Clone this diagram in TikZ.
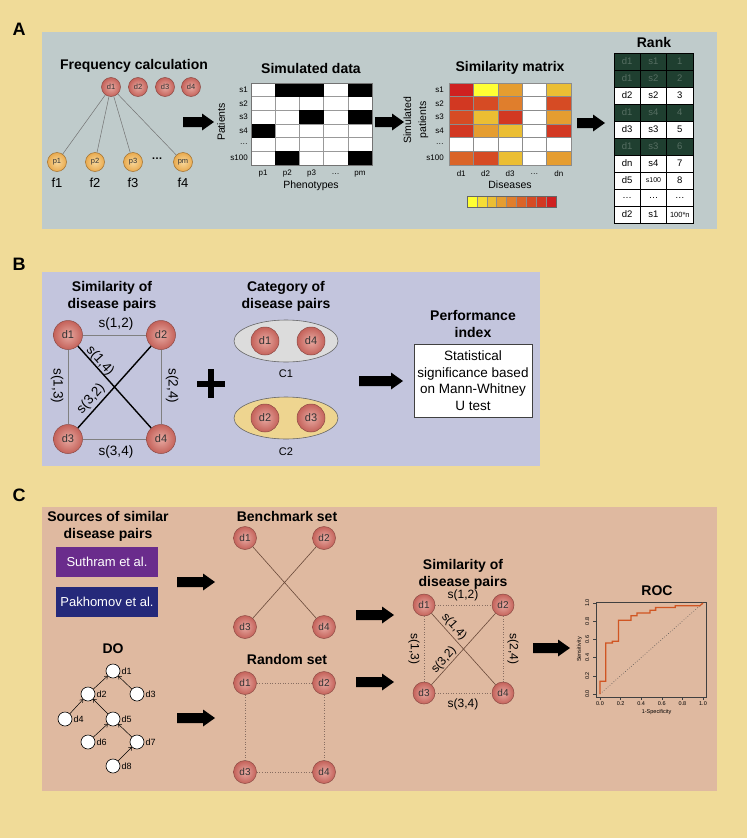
\documentclass[tikz,border=0pt]{standalone}
\usepackage{fontspec}
\setmainfont{Liberation Sans}
\usetikzlibrary{arrows.meta,shapes.geometric,calc}
\definecolor{bgyellow}{HTML}{F0DB98}
\definecolor{panelA}{HTML}{BFCBCB}
\definecolor{panelB}{HTML}{C3C5DD}
\definecolor{panelC}{HTML}{DFB9A0}
\definecolor{dred}{HTML}{C4625A}
\definecolor{dredin}{HTML}{E8AAA2}
\definecolor{dredline}{HTML}{8C4A44}
\definecolor{porange}{HTML}{E9AA4E}
\definecolor{porangein}{HTML}{F8D89C}
\definecolor{porangeline}{HTML}{A07030}
\definecolor{darkrow}{HTML}{1F3F30}
\definecolor{darktext}{HTML}{566E62}
\definecolor{purplebox}{HTML}{6A2C8C}
\definecolor{navybox}{HTML}{25297A}
\definecolor{roccurve}{HTML}{D05522}
\definecolor{ellgray}{HTML}{DCDCDC}
\definecolor{ellyellow}{HTML}{EED590}
\definecolor{cb1}{HTML}{FFFF33}
\definecolor{cb2}{HTML}{F5DC35}
\definecolor{cb3}{HTML}{EBBE33}
\definecolor{cb4}{HTML}{E59D30}
\definecolor{cb5}{HTML}{E07E2C}
\definecolor{cb6}{HTML}{DA6428}
\definecolor{cb7}{HTML}{D64B24}
\definecolor{cb8}{HTML}{D23822}
\definecolor{cb9}{HTML}{CF2020}
\definecolor{edgebrown}{HTML}{6A4A3A}
\newcommand{\fsz}[1]{\fontsize{#1}{#1}\selectfont}
\begin{document}
\begin{tikzpicture}[x=1pt,y=-1pt,
  ttl/.style={font=\fontsize{14}{17}\selectfont\bfseries, align=center, inner sep=0pt},
  dnode/.style={circle, draw=dredline, line width=0.5pt, inner color=dredin, outer color=dred, minimum size=#1, inner sep=0pt, text=black!80},
  pnode/.style={circle, draw=porangeline, line width=0.5pt, inner color=porangein, outer color=porange, minimum size=19, inner sep=0pt, font=\fsz{7.5}, text=black!80},
  donode/.style={circle, draw=black, fill=white, line width=0.6pt, minimum size=14, inner sep=0pt},
  dolbl/.style={anchor=west, inner sep=1pt, font=\fsz{9}},
  small/.style={inner sep=0pt, font=\fsz{#1}},
  gridgray/.style={draw=black!40, line width=0.5pt},
  barrow/.pic={\fill[black] (-#1,-5) -- (-12,-5) -- (-12,-8.5) -- (0,0) -- (-12,8.5) -- (-12,5) -- (-#1,5) -- cycle;},
  doarrow/.style={-{To[length=3pt,width=4.5pt]}, line width=0.5pt},
  slbl/.style={inner sep=0pt, font=\fsz{13.5}},
  slblc/.style={inner sep=0pt, font=\fsz{12}}
]
\useasboundingbox (0,0) rectangle (747,838);
\fill[bgyellow] (0,0) rectangle (747,838);
\fill[panelA] (42,32) rectangle (717,229);
\fill[panelB] (42,272) rectangle (540,466);
\fill[panelC] (42,507) rectangle (717,791);
\node[font=\fsz{18}\bfseries, inner sep=0pt] (labA) at (19,29) {A};
\node[font=\fsz{18}\bfseries, inner sep=0pt] (labB) at (19,264) {B};
\node[font=\fsz{18}\bfseries, inner sep=0pt] (labC) at (19,495) {C};

% ---------------- Panel A ----------------
\node[ttl] (tfreq) at (134,66) {Frequency calculation};
\foreach \n/\x in {1/111,2/138,3/165,4/191}
  \node[dnode=19, font=\fsz{7.5}] (fa\n) at (\x,87) {d\n};
\foreach \n/\x/\t in {1/57/p1,2/95/p2,3/133/p3,4/183/pm}{
  \node[pnode] (fp\n) at (\x,162) {\t};
  \node[small=13] (ff\n) at (\x,183) {f\n};
  \draw[black!55, line width=0.5pt] (fa1) -- (fp\n);
}
\node[font=\fsz{11}\bfseries, inner sep=0pt] (fdots) at (157,159) {…};
\pic at (214,122) {barrow=31};

% simulated data
\node[ttl] (tsim) at (311,68) {Simulated data};
\fill[white] (251,83) rectangle (372,165);
\foreach \j in {1,...,4} \draw[gridgray] (251+\j*24.2,83) -- (251+\j*24.2,165);
\foreach \i in {1,...,5} \draw[gridgray] (251,83+\i*13.67) -- (372,83+\i*13.67);
\foreach \i/\j in {0/1,0/2,0/4,2/2,2/4,3/0,5/1,5/4}
  \fill[black] (251+\j*24.2,83+\i*13.67) rectangle ++(24.2,13.67);
\draw[black!55, line width=0.6pt] (251,83) rectangle (372,165);
\foreach \t [count=\i from 0] in {s1,s2,s3,s4,…,s100}
  \node[small=8, anchor=east] (sr\i) at (248,89.8+\i*13.67) {\t};
\foreach \t [count=\j from 0] in {p1,p2,p3,…,pm}
  \node[small=8] (sc\j) at (263.1+\j*24.2,174) {\t};
\node[small=10.5] (phen) at (311,186) {Phenotypes};
\node[small=10.5, rotate=90] (pat) at (221,122) {Patients};
\pic at (404,122) {barrow=29};

% similarity matrix
\node[ttl] (tsm) at (510,68) {Similarity matrix};
\foreach \row [count=\i from 0] in {{cb9,cb1,cb4,white,cb3},{cb8,cb7,cb5,white,cb7},{cb7,cb3,cb8,white,cb4},{cb8,cb4,cb3,white,cb8},{white,white,white,white,white},{cb6,cb7,cb3,white,cb4}}{
  \foreach \c [count=\j from 0] in \row
    \filldraw[fill=\c, draw=black!45, line width=0.5pt] (449+\j*24.4,83+\i*13.67) rectangle ++(24.4,13.67);
}
\foreach \t [count=\i from 0] in {s1,s2,s3,s4,…,s100}
  \node[small=8, anchor=east] (mr\i) at (444,89.8+\i*13.67) {\t};
\foreach \t [count=\j from 0] in {d1,d2,d3,…,dn}
  \node[small=8] (mc\j) at (461.2+\j*24.4,174) {\t};
\node[small=10.5] (dis) at (510,185) {Diseases};
\node[font=\fontsize{10.5}{15}\selectfont, align=center, inner sep=0pt, rotate=90] (simpat) at (416,120) {Simulated\\patients};
\foreach \c [count=\j from 0] in {cb1,cb2,cb3,cb4,cb5,cb6,cb7,cb8,cb9}
  \filldraw[fill=\c, draw=black!45, line width=0.4pt] (467+\j*9.89,196) rectangle ++(9.89,11);
\draw[black!60, line width=0.6pt] (467,196) rectangle (556,207);
\pic at (605,123) {barrow=28};

% rank table
\node[ttl] (trank) at (654,42) {Rank};
\fill[white] (614,53) rectangle (693,223);
\foreach \i in {0,1,3,5} \fill[darkrow] (614,53+\i*17) rectangle ++(79,17);
\foreach \i in {1,...,9} \draw[black, line width=0.5pt] (614,53+\i*17) -- (693,53+\i*17);
\draw[black, line width=0.5pt] (640.3,53) -- (640.3,223) (666.7,53) -- (666.7,223);
\draw[black, line width=0.6pt] (614,53) rectangle (693,223);
\foreach \a/\b/\c/\col [count=\i from 0] in {d1/s1/1/darktext, d1/s2/2/darktext, d2/s2/3/black, d1/s4/4/darktext, d3/s3/5/black, d1/s3/6/darktext, dn/s4/7/black, d5/{\fsz{7}s100}/8/black, …/…/…/black, d2/s1/{\fsz{7.5}100*n}/black}{
  \node[small=9.5, text=\col] (ra\i) at (627.2,61.5+\i*17) {\a};
  \node[small=9.5, text=\col] (rb\i) at (653.5,61.5+\i*17) {\b};
  \node[small=9.5, text=\col] (rc\i) at (679.8,61.5+\i*17) {\c};
}

% ---------------- Panel B ----------------
\node[ttl] (tsimb) at (112,296.5) {Similarity of\\disease pairs};
\node[dnode=29, font=\fsz{11}] (b1) at (68,335) {d1};
\node[dnode=29, font=\fsz{11}] (b2) at (161,335) {d2};
\node[dnode=29, font=\fsz{11}] (b3) at (68,439) {d3};
\node[dnode=29, font=\fsz{11}] (b4) at (161,439) {d4};
\draw[black!50, line width=0.6pt] (b1) -- (b2) (b1) -- (b3) (b2) -- (b4) (b3) -- (b4);
\draw[black, line width=1.4pt] (b1) -- (b4) (b2) -- (b3);
\node[slbl] (s12) at (116,324) {s(1,2)};
\node[slbl] (s34) at (116,452) {s(3,4)};
\node[slbl, rotate=-90] (s13) at (57,386) {s(1,3)};
\node[slbl, rotate=-90] (s24) at (172,386) {s(2,4)};
\node[slbl, rotate=-48] (s14) at (100,361) {s(1,4)};
\node[slbl, rotate=48] (s32) at (91,399) {s(3,2)};
\draw[black, line width=5.5pt] (197,384) -- (225,384) (211,369) -- (211,398);

\node[ttl] (tcat) at (286,296.5) {Category of\\disease pairs};
\node[ellipse, draw=black!60, line width=0.6pt, fill=ellgray, minimum width=104, minimum height=42, inner sep=0pt] (e1) at (286,341) {};
\node[ellipse, draw=black!60, line width=0.6pt, fill=ellyellow, minimum width=104, minimum height=42, inner sep=0pt] (e2) at (286,418) {};
\node[dnode=28, font=\fsz{11}] (c1a) at (265,341) {d1};
\node[dnode=28, font=\fsz{11}] (c1b) at (311,341) {d4};
\node[dnode=28, font=\fsz{11}] (c2a) at (265,418) {d2};
\node[dnode=28, font=\fsz{11}] (c2b) at (311,418) {d3};
\node[small=11] (lc1) at (286,374) {C1};
\node[small=11] (lc2) at (286,452) {C2};
\pic at (403,381) {barrow=44};
\node[ttl] (tperf) at (473,323.5) {Performance\\index};
\node[draw=black!75, line width=0.7pt, fill=white, minimum width=118, minimum height=73, inner sep=0pt, align=center, font=\fontsize{13.5}{16.6}\selectfont] (perf) at (473,380.5) {Statistical\\significance based\\on Mann-Whitney\\U test};

% ---------------- Panel C ----------------
\node[ttl] (tsrc) at (108,526.5) {Sources of similar\\disease pairs};
\node[fill=purplebox, text=white, minimum width=102, minimum height=30, inner sep=0pt, font=\fsz{13}] (suth) at (107,562) {Suthram et al.};
\node[fill=navybox, text=white, minimum width=102, minimum height=30, inner sep=0pt, font=\fsz{13}] (pakh) at (107,602) {Pakhomov et al.};
\node[ttl] (tdo) at (113,649) {DO};
\node[donode] (do1) at (113,671) {};
\node[donode] (do2) at (88,694) {};
\node[donode] (do3) at (137,694) {};
\node[donode] (do4) at (65,719) {};
\node[donode] (do5) at (113,719) {};
\node[donode] (do6) at (88,742) {};
\node[donode] (do7) at (137,742) {};
\node[donode] (do8) at (113,766) {};
\foreach \n in {1,...,8} \node[dolbl] (dol\n) at (do\n.east) {d\n};
\draw[doarrow] (do2) -- (do1);
\draw[doarrow] (do3) -- (do1);
\draw[doarrow] (do4) -- (do2);
\draw[doarrow] (do5) -- (do2);
\draw[doarrow] (do6) -- (do5);
\draw[doarrow] (do7) -- (do5);
\draw[doarrow] (do8) -- (do7);
\pic at (215,582) {barrow=38};
\pic at (215,718) {barrow=38};

% benchmark set
\node[ttl] (tbench) at (287,516) {Benchmark set};
\node[dnode=23, font=\fsz{10}] (k1) at (245,538) {d1};
\node[dnode=23, font=\fsz{10}] (k2) at (324,538) {d2};
\node[dnode=23, font=\fsz{10}] (k3) at (245,627) {d3};
\node[dnode=23, font=\fsz{10}] (k4) at (324,627) {d4};
\draw[edgebrown, line width=0.6pt] (k1) -- (k4) (k2) -- (k3);
\pic at (394,615) {barrow=38};

% random set
\node[ttl] (trand) at (287,659) {Random set};
\node[dnode=23, font=\fsz{10}] (q1) at (245,683) {d1};
\node[dnode=23, font=\fsz{10}] (q2) at (324,683) {d2};
\node[dnode=23, font=\fsz{10}] (q3) at (245,772) {d3};
\node[dnode=23, font=\fsz{10}] (q4) at (324,772) {d4};
\draw[edgebrown!80, line width=0.6pt, dotted] (q1) -- (q2) (q1) -- (q3) (q2) -- (q4) (q3) -- (q4);
\pic at (394,682) {barrow=38};

% similarity C
\node[ttl] (tsimc) at (463,574.5) {Similarity of\\disease pairs};
\node[dnode=22, font=\fsz{10}] (g1) at (424,605) {d1};
\node[dnode=22, font=\fsz{10}] (g2) at (503,605) {d2};
\node[dnode=22, font=\fsz{10}] (g3) at (424,693) {d3};
\node[dnode=22, font=\fsz{10}] (g4) at (503,693) {d4};
\draw[edgebrown!80, line width=0.6pt, dotted] (g1) -- (g2) (g1) -- (g3) (g2) -- (g4) (g3) -- (g4);
\draw[edgebrown, line width=0.6pt] (g1) -- (g4) (g2) -- (g3);
\node[slblc] (t12) at (463,595) {s(1,2)};
\node[slblc] (t34) at (463,704) {s(3,4)};
\node[slblc, rotate=-90] (t13) at (414,649) {s(1,3)};
\node[slblc, rotate=-90] (t24) at (513,649) {s(2,4)};
\node[slblc, rotate=-48] (t14) at (454,626.5) {s(1,4)};
\node[slblc, rotate=48] (t32) at (444,660) {s(3,2)};
\pic at (570,648) {barrow=37};

% ROC
\node[ttl] (troc) at (657,591) {ROC};
\begin{scope}[shift={(600,694)}, x=103pt, y=91pt]
  \draw[black!75, line width=0.8pt] (-0.039,-0.033) rectangle (1.03,1.01);
  \foreach \v in {0.0,0.2,0.4,0.6,0.8,1.0}{
    \draw[black!75, line width=0.5pt] (\v,-0.033) -- (\v,-0.065);
    \node[small=5.5] (xt\v) at (\v,-0.11) {\v};
    \draw[black!75, line width=0.5pt] (-0.039,\v) -- (-0.065,\v);
    \node[small=5.5, rotate=90] (yt\v) at (-0.125,\v) {\v};
  }
  \node[small=5.5] (xlab) at (0.55,-0.198) {1-Specificity};
  \node[small=5.5, rotate=90] (ylab) at (-0.2,0.49) {Sensitivity};
  \draw[black!70, line width=0.6pt, dotted] (0,0) -- (1,1);
  \draw[roccurve, line width=1.3pt, line join=miter] (0,0) -- (0,0.14) -- (0.055,0.14) -- (0.055,0.56) -- (0.12,0.56) -- (0.12,0.58) -- (0.18,0.58) -- (0.18,0.81) -- (0.30,0.81) -- (0.30,0.86) -- (0.36,0.86) -- (0.36,0.89) -- (0.485,0.89) -- (0.485,0.92) -- (0.54,0.92) -- (0.54,0.95) -- (0.73,0.95) -- (0.73,0.97) -- (0.97,0.97) -- (1,1);
\end{scope}
\end{tikzpicture}
\end{document}
